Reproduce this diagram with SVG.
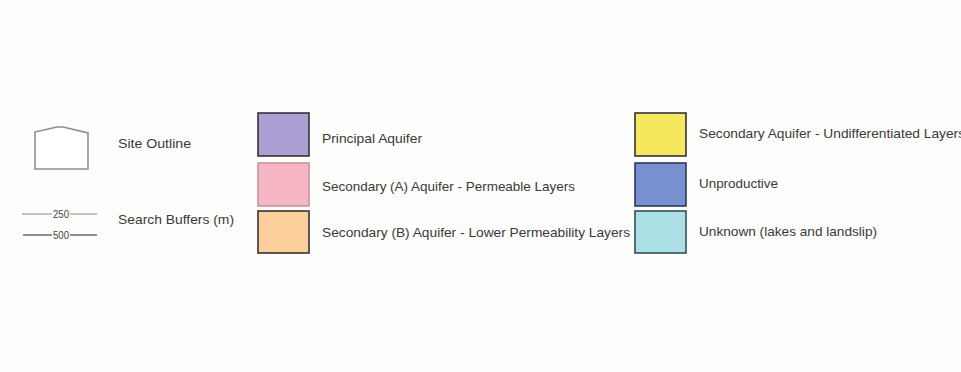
<svg xmlns="http://www.w3.org/2000/svg" width="961" height="372" viewBox="0 0 961 372">
<style>
.bg{fill:#fdfdfb}
.lbl{font-family:"Liberation Sans",Arial,sans-serif;font-size:13px;fill:#3a3a3a}
.small{font-family:"Liberation Sans",Arial,sans-serif;font-size:10px;fill:#444}
.sw{stroke-width:1.6}
</style>
<rect class="bg" x="0" y="0" width="961" height="372"/>
<g id="site-outline">
<path d="M35,132 L57,127 L63,127 L88,133 L88,169 L35,169 Z" fill="#ffffff" stroke="#8e8e8e" stroke-width="1.6"/>
<text class="lbl" x="118" y="148" textLength="73" lengthAdjust="spacingAndGlyphs">Site Outline</text>
</g>
<g id="search-buffers">
<line x1="22" y1="214" x2="52" y2="214" stroke="#888" stroke-width="1"/>
<line x1="70" y1="214" x2="97" y2="214" stroke="#888" stroke-width="1"/>
<text class="small" x="61" y="217.5" text-anchor="middle" textLength="16" lengthAdjust="spacingAndGlyphs">250</text>
<line x1="23" y1="235" x2="52" y2="235" stroke="#444" stroke-width="1.2"/>
<line x1="70" y1="235" x2="97" y2="235" stroke="#444" stroke-width="1.2"/>
<text class="small" x="61" y="238.5" text-anchor="middle" textLength="16" lengthAdjust="spacingAndGlyphs">500</text>
<text class="lbl" x="118" y="224" textLength="116" lengthAdjust="spacingAndGlyphs">Search Buffers (m)</text>
</g>
<g id="principal-aquifer">
<rect class="sw" x="258" y="113" width="51" height="43" fill="#ab9fd3" stroke="#333"/>
<text class="lbl" x="322" y="143" textLength="100" lengthAdjust="spacingAndGlyphs">Principal Aquifer</text>
</g>
<g id="secondary-a">
<rect class="sw" x="258" y="163" width="51" height="43" fill="#f7b6c4" stroke="#c8949e"/>
<text class="lbl" x="322" y="191" textLength="253" lengthAdjust="spacingAndGlyphs">Secondary (A) Aquifer - Permeable Layers</text>
</g>
<g id="secondary-b">
<rect class="sw" x="258" y="211" width="51" height="42" fill="#fdd09b" stroke="#333"/>
<text class="lbl" x="322" y="237" textLength="308" lengthAdjust="spacingAndGlyphs">Secondary (B) Aquifer - Lower Permeability Layers</text>
</g>
<g id="secondary-undiff">
<rect class="sw" x="635" y="113" width="51" height="43" fill="#f5e85f" stroke="#333"/>
<text class="lbl" x="699" y="138" textLength="266" lengthAdjust="spacingAndGlyphs">Secondary Aquifer - Undifferentiated Layers</text>
</g>
<g id="unproductive">
<rect class="sw" x="635" y="163" width="51" height="43" fill="#7890cf" stroke="#2c3a55"/>
<text class="lbl" x="699" y="188" textLength="79" lengthAdjust="spacingAndGlyphs">Unproductive</text>
</g>
<g id="unknown">
<rect class="sw" x="635" y="211" width="51" height="42" fill="#ade0e6" stroke="#2f4f55"/>
<text class="lbl" x="699" y="236" textLength="178" lengthAdjust="spacingAndGlyphs">Unknown (lakes and landslip)</text>
</g>
<g id="connectors"/>
</svg>
